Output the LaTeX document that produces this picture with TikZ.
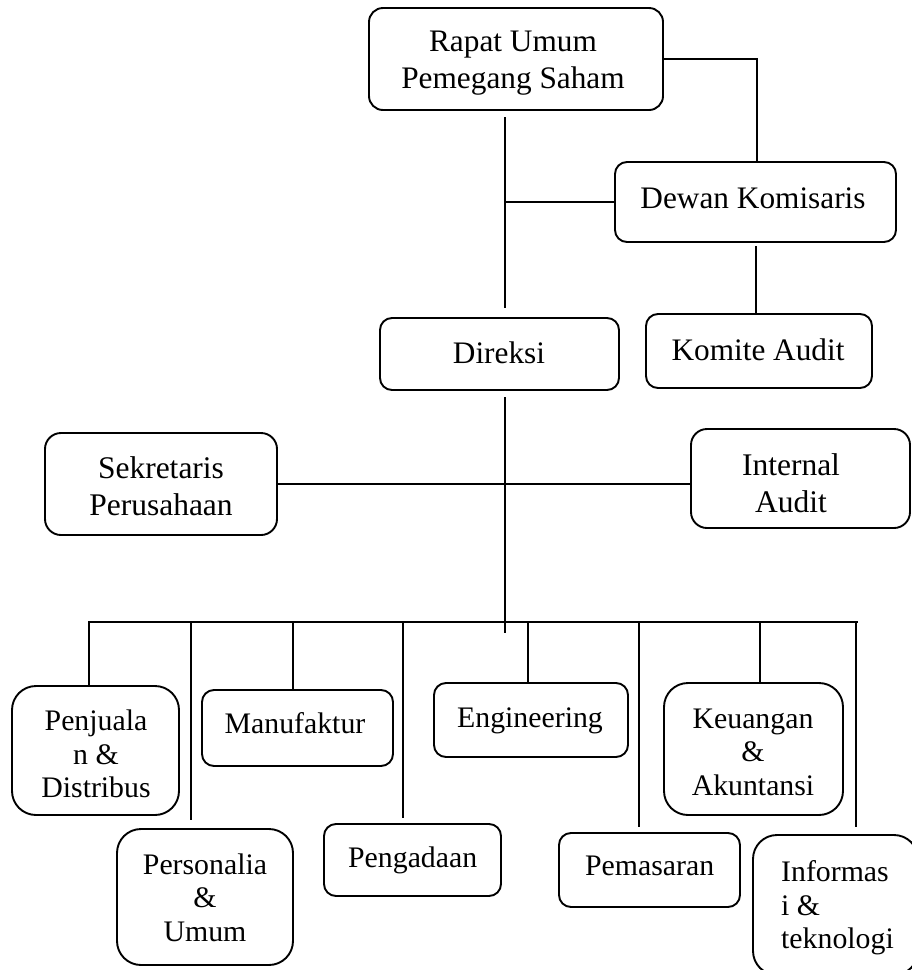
\documentclass[tikz,border=0pt]{standalone}
\usepackage{fontspec}
\setmainfont{Liberation Serif}
\usetikzlibrary{calc}
\tikzset{
  box/.style={draw, line width=1.9pt, inner sep=0pt},
  lnk/.style={line width=1.9pt},
  txtA/.style={inner sep=0pt, align=center, font=\fontsize{31.3}{36.7}\selectfont},
  txtM/.style={inner sep=0pt, align=center, font=\fontsize{31.5}{36.7}\selectfont},
  txtB/.style={inner sep=0pt, align=center, font=\fontsize{29.8}{33.5}\selectfont},
}
\begin{document}
\begin{tikzpicture}[x=1pt,y=-1pt]
\useasboundingbox (0,0) rectangle (912,970);
% boxes
\node[box, rounded corners=14pt, minimum width=294pt, minimum height=102pt] (rups) at (516,59) {};
\node[box, rounded corners=12pt, minimum width=281pt, minimum height=80pt] (dewan) at (755.5,202) {};
\node[box, rounded corners=12pt, minimum width=226pt, minimum height=74pt] (komite) at (759,351) {};
\node[box, rounded corners=12pt, minimum width=239pt, minimum height=72pt] (direksi) at (499.5,354) {};
\node[box, rounded corners=16pt, minimum width=232pt, minimum height=102pt] (sek) at (161,484) {};
\node[box, rounded corners=16pt, minimum width=219pt, minimum height=99pt] (ia) at (800.5,478.5) {};
\node[box, rounded corners=24pt, minimum width=167pt, minimum height=129pt] (pen) at (95.5,750.5) {};
\node[box, rounded corners=24pt, minimum width=176pt, minimum height=136pt] (per) at (205,897) {};
\node[box, rounded corners=12pt, minimum width=191pt, minimum height=76pt] (man) at (297.5,728) {};
\node[box, rounded corners=12pt, minimum width=177pt, minimum height=72pt] (pgd) at (412.5,860) {};
\node[box, rounded corners=12pt, minimum width=194pt, minimum height=74pt] (eng) at (531,720) {};
\node[box, rounded corners=12pt, minimum width=181pt, minimum height=74pt] (pem) at (649.5,870) {};
\node[box, rounded corners=24pt, minimum width=179pt, minimum height=132pt] (keu) at (753.5,749) {};
\begin{scope}
\clip (0,0) rectangle (912,970);
\node[box, rounded corners=24pt, minimum width=165pt, minimum height=140pt] (inf) at (835.5,905) {};
\end{scope}
% texts
\node[txtA] (trups) at (513,63) {Rapat Umum\\Pemegang Saham};
\node[txtA] (tdewan) at (753,198) {Dewan Komisaris};
\node[txtA] (tkomite) at (758,350) {Komite Audit};
\node[txtA] (tdireksi) at (499,353) {Direksi};
\node[txtM] (tsek) at (161,486.5) {Sekretaris\\Perusahaan};
\node[txtM] (tia) at (791,483) {Internal\\Audit};
\node[txtB] (tpen) at (96,754) {Penjuala\\n \&\\Distribus};
\node[txtB] (tper) at (205,897.7) {Personalia\\\&\\Umum};
\node[txtB] (tman) at (295,722.8) {Manufaktur};
\node[txtB] (tpgd) at (412.7,860.7) {Pengadaan};
\node[txtB] (teng) at (530,720.4) {Engineering};
\node[txtB] (tpem) at (649.7,866.3) {Pemasaran};
\node[txtB] (tkeu) at (753,752) {Keuangan\\\&\\Akuntansi};
\node[txtB, align=left, anchor=west] (tinf) at (781,907.8) {Informas\\i \&\\teknologi};
% connectors
\coordinate (v1top) at (505,117);
\coordinate (v1bot) at (505,308);
\draw[lnk] (v1top) -- (v1bot);
\draw[lnk] (dewan.west -| v1top) -- (dewan.west);
\coordinate (rd) at (757,59);
\draw[lnk] (rups.east) -- (rd) -- (rd |- dewan.north);
\coordinate (dk) at (756,246);
\draw[lnk] (dk) -- (dk |- komite.north);
\coordinate (dtop) at (505,397);
\coordinate (dbot) at (505,633);
\draw[lnk] (dtop) -- (dbot);
\draw[lnk] (sek.east) -- (sek.east -| ia.west);
\coordinate (busL) at (88,622);
\coordinate (busR) at (858,622);
\draw[lnk] (busL) -- (busR);
% upper stubs
\coordinate (s1) at (89,622);
\coordinate (s3) at (293,622);
\coordinate (s5) at (528,622);
\coordinate (s7) at (760,622);
\draw[lnk] (s1) -- (s1 |- pen.north);
\draw[lnk] (s3) -- (s3 |- man.north);
\draw[lnk] (s5) -- (s5 |- eng.north);
\draw[lnk] (s7) -- (s7 |- keu.north);
% lower stubs
\coordinate (s2) at (191,622); \coordinate (e2) at (191,820);
\coordinate (s4) at (403,622); \coordinate (e4) at (403,818);
\coordinate (s6) at (639,622); \coordinate (e6) at (639,827);
\coordinate (s8) at (856,622); \coordinate (e8) at (856,827);
\draw[lnk] (s2) -- (e2);
\draw[lnk] (s4) -- (e4);
\draw[lnk] (s6) -- (e6);
\draw[lnk] (s8) -- (e8);
\end{tikzpicture}
\end{document}
